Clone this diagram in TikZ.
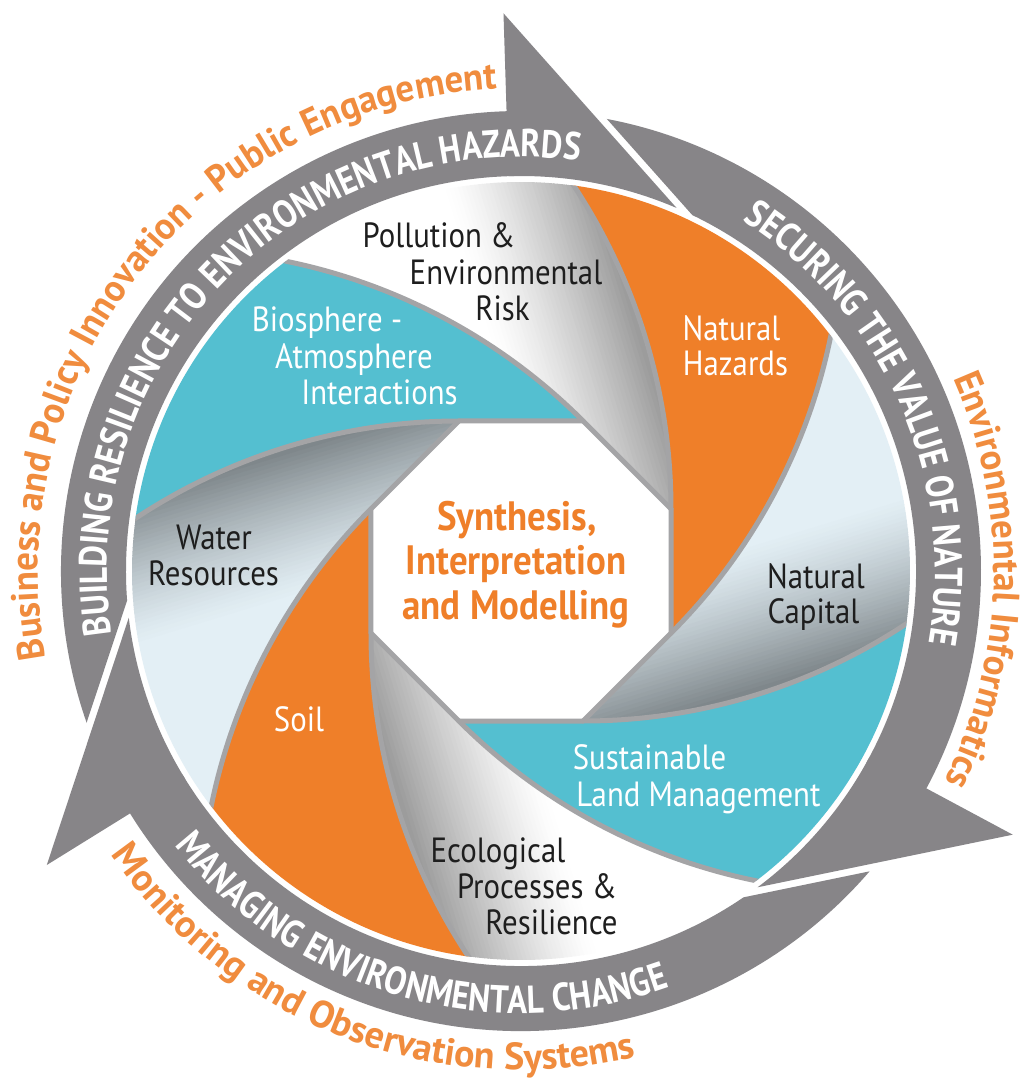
\documentclass[tikz,border=0pt]{standalone}
\usepackage{fontspec}
\setmainfont{PT Sans}
\newfontfamily\lblfont[FakeStretch=0.88]{PT Sans}
\newfontfamily\ringfont[FakeStretch=0.85]{PT Sans}
\newfontfamily\outfont[FakeStretch=0.97]{PT Sans}
\newfontfamily\outfontwide[FakeStretch=1.0]{PT Sans}
\newfontfamily\ctrfont[FakeStretch=0.9]{PT Sans}
\usetikzlibrary{decorations.text}
\definecolor{ringgray}{HTML}{878588}
\definecolor{petorange}{HTML}{EF7F29}
\definecolor{outorange}{HTML}{F08C3E}
\definecolor{petteal}{HTML}{54BFD0}
\definecolor{petline}{HTML}{A4A4A6}
\definecolor{lightblue}{HTML}{E3EFF5}
\definecolor{darkblue}{HTML}{7D8589}
\definecolor{midgray}{HTML}{9A9A9A}
\definecolor{lbltext}{HTML}{1E1E1E}

\newcommand\petalpath{(62.13,150) -- (-62.13,150) arc[start angle=90, end angle=123.5, radius=586] arc[start angle=172.2, end angle=127.2, radius=389] arc[start angle=78.5, end angle=45, radius=586] -- cycle}
\newcommand\bladepath{(62.13,150) -- (-62.13,150) arc[start angle=90, end angle=124.5, radius=586]}

\newcommand\gradstrips[2]{%
  \begin{scope}[rotate=62]
    \fill[#1] (-700,-700) rectangle (41,700);
    \fill[#2] (183,-700) rectangle (700,700);
    \foreach \i in {0,...,35} {
      \pgfmathsetmacro\pa{40+\i*4}
      \pgfmathsetmacro\pb{\pa+4.6}
      \pgfmathsetmacro\gt{100*((\i+0.5)/36)^1.3}
      \fill[#2!\gt!#1] (\pa,-700) rectangle (\pb,700);
    }
  \end{scope}}
\newcommand\solidpetal[2]{\begin{scope}[rotate=#1]\fill[#2] \petalpath;\end{scope}}
\newcommand\gradpetal[3]{\begin{scope}[rotate=#1]\clip \petalpath; \gradstrips{#2}{#3}\end{scope}}

\tikzset{
  lbl/.style={font=\lblfont\fontsize{35}{35}\selectfont, inner sep=0pt, anchor=base, text=lbltext},
  lblw/.style={lbl, text=white},
  centertext/.style={font=\ctrfont\bfseries\fontsize{41}{41}\selectfont, inner sep=0pt, anchor=base, text=petorange},
  ringtext/.style={decorate, decoration={text along path, text align=center,
     text={|\ringfont\bfseries\fontsize{39}{39}\selectfont\color{white}|#1}}},
  outtext/.style={decorate, decoration={text along path, text align=center,
     text={|\outfont\bfseries\fontsize{38}{38}\selectfont\color{outorange}|#1}}},
  outtextwide/.style={decorate, decoration={text along path, text align=center,
     text={|\outfontwide\bfseries\fontsize{38}{38}\selectfont\color{outorange}|#1}}}
}

\begin{document}
\begin{tikzpicture}[x=1pt,y=1pt,line join=round]
\useasboundingbox (-521,-510) rectangle (503,571);
\fill[white] (-521,-510) rectangle (503,571);

% ---------- outer ring of three arrows ----------
\foreach \rot/\prev in {0/120,-120/0,-240/-120} {
  \begin{scope}[rotate=\rot]
    \fill[ringgray] (91.8:395) -- (91.8:558) -- (66.8:395) arc[start angle=66.8, end angle=91.8, radius=395] -- cycle;
  \end{scope}
  \begin{scope}[rotate=\prev]
    \clip (-278.13,861.26) -- (187.07,338.20) -- (0,0) -- (0,-2000) -- (2000,-2000) -- (2000,2000) -- (-278.13,2000) -- cycle;
    \fill[ringgray] (95:460) arc[start angle=95, end angle=-29, radius=460] -- (-29:395) arc[start angle=-29, end angle=95, radius=395] -- cycle;
  \end{scope}
}

% ring texts
\path[ringtext={BUILDING RESILIENCE TO ENVIRONMENTAL HAZARDS}] (195.3:414) arc[start angle=195.3, end angle=75.3, radius=414];
\path[ringtext={SECURING THE VALUE OF NATURE}] (83.8:414) arc[start angle=83.8, end angle=-36.2, radius=414];
\path[ringtext={MANAGING ENVIRONMENTAL CHANGE}] (194:442) arc[start angle=194, end angle=314, radius=442];

% outer orange texts
\path[outtext={Business and Policy Innovation - Public Engagement}] (216.6:483) arc[start angle=216.6, end angle=66.6, radius=483];
\path[outtext={Environmental Informatics}] (43.8:473) arc[start angle=43.8, end angle=-46.2, radius=473];
\path[outtextwide={Monitoring and Observation Systems}] (189:499) arc[start angle=189, end angle=309, radius=499];

% ---------- aperture petals ----------
\solidpetal{0}{petteal}
\gradpetal{-45}{white}{midgray}
\solidpetal{-90}{petorange}
\gradpetal{-135}{lightblue}{darkblue}
\solidpetal{-180}{petteal}
\gradpetal{-225}{white}{midgray}
\solidpetal{-270}{petorange}
\gradpetal{-315}{lightblue}{darkblue}

\begin{scope}
  \clip (0,0) circle[radius=389];
  \foreach \k in {0,...,7} {
    \draw[petline, line width=5, line cap=round, rotate=-45*\k] \bladepath;
  }
\end{scope}

% ---------- labels ----------
\node[lbl]  (pol1) at (-82,323) {Pollution \&};
\node[lbl]  (pol2) at (-15,286) {Environmental};
\node[lbl]  (pol3) at (-18.5,250) {Risk};
\node[lblw] (nh1) at (210.5,230) {Natural};
\node[lblw] (nh2) at (214.5,195) {Hazards};
\node[lblw] (bio1) at (-194,239) {Biosphere -};
\node[lblw] (bio2) at (-167,202) {Atmosphere};
\node[lblw] (bio3) at (-141.5,166) {Interactions};
\node[lbl]  (wat1) at (-307,21) {Water};
\node[lbl]  (wat2) at (-307.5,-14) {Resources};
\node[lbl]  (nc1) at (295,-17) {Natural};
\node[lbl]  (nc2) at (292.5,-52) {Capital};
\node[lblw] (soil) at (-222,-160) {Soil};
\node[lblw] (sus1) at (128.5,-198) {Sustainable};
\node[lblw] (sus2) at (177.5,-235) {Land Management};
\node[lbl]  (eco1) at (-23,-291) {Ecological};
\node[lbl]  (eco2) at (16,-327) {Processes \&};
\node[lbl]  (eco3) at (30.5,-363) {Resilience};

\node[centertext] (syn1) at (-4,40) {Synthesis,};
\node[centertext] (syn2) at (-5,-3) {Interpretation};
\node[centertext] (syn3) at (-5,-48) {and Modelling};
\end{tikzpicture}
\end{document}
